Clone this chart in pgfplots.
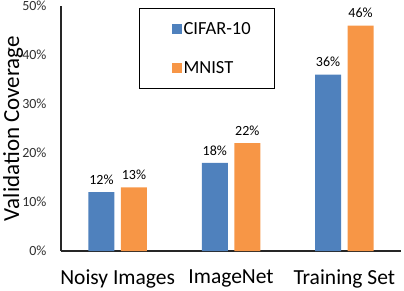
\documentclass[border=0pt]{standalone}
\usepackage{pgfplots}
\pgfplotsset{compat=1.18}
\usepackage{fontspec}
\setmainfont{Carlito}
\definecolor{cblue}{HTML}{4F81BD}
\definecolor{corange}{HTML}{F79646}
\definecolor{tickgray}{HTML}{303030}
\begin{document}
\begin{tikzpicture}
\useasboundingbox (-61pt,-39pt) rectangle (343pt,251pt);
\begin{axis}[
  at={(0pt,0pt)}, anchor=south west,
  scale only axis, width=340pt, height=245pt,
  ybar=6.5pt, bar width=26pt,
  xmin=-0.5, xmax=2.5, ymin=0, ymax=50,
  axis lines=left, axis line style={-, line width=1.4pt, color=black!85},
  xtick=data, xticklabels={Noisy Images, ImageNet, Training Set},
  x tick label style={font=\fontsize{21.5}{24}\selectfont, yshift=-15pt},
  ytick={0,10,20,30,40,50},
  yticklabel={\pgfmathprintnumber{\tick}\%},
  y tick label style={font=\fontsize{14}{16}\selectfont, color=tickgray, xshift=-11pt},
  /pgf/number format/assume math mode=true,
  major tick length=0pt,
  ylabel={Validation Coverage},
  ylabel style={font=\fontsize{23}{25}\selectfont, at={(axis description cs:-0.141,0.5)}, anchor=center},
  nodes near coords={\pgfmathprintnumber{\pgfplotspointmeta}\%},
  nodes near coords style={font=\fontsize{14}{16}\selectfont, color=black, yshift=4pt},
  legend style={at={(rel axis cs:0.229,0.992)}, anchor=north west, draw=black, line width=1.4pt,
    font=\fontsize{18.5}{20}\selectfont, inner xsep=22pt, inner ysep=12pt, row sep=21pt},
  legend cell align=left,
  legend image code/.code={\path (-10pt,0pt); \fill[#1,draw=none] (0pt,-5pt) rectangle (10pt,5pt);},
]
\addplot[fill=cblue, draw=none] coordinates {(0,12) (1,18) (2,36)};
\addplot[fill=corange, draw=none] coordinates {(0,13) (1,22) (2,46)};
\legend{CIFAR-10, MNIST}
\end{axis}
\end{tikzpicture}
\end{document}
